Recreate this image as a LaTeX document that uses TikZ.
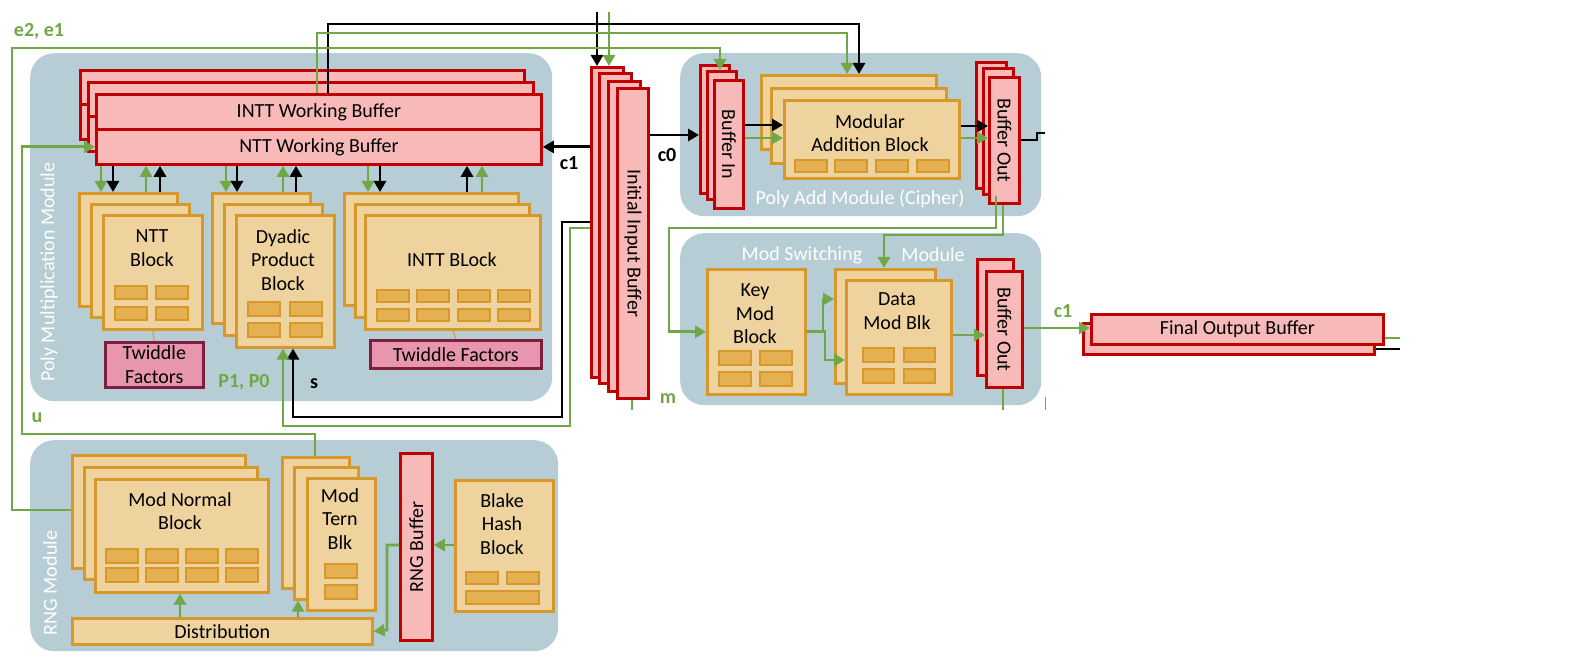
\documentclass[tikz,border=0pt]{standalone}
\usepackage{fontspec}
\setmainfont{Carlito}
\usetikzlibrary{arrows.meta,positioning}
\definecolor{modblue}{RGB}{182,205,214}
\definecolor{bufred}{RGB}{192,0,0}
\definecolor{buffill}{RGB}{248,185,185}
\definecolor{blkedge}{RGB}{214,152,42}
\definecolor{blkfill}{RGB}{238,211,158}
\definecolor{cellfill}{RGB}{228,176,82}
\definecolor{twedge}{RGB}{125,30,62}
\definecolor{twfill}{RGB}{232,150,176}
\definecolor{sigreen}{RGB}{112,168,72}

\begin{document}
\begin{tikzpicture}[x=1pt, y=-1pt,
  font=\fontsize{20}{23.5}\selectfont,
  module/.style={fill=modblue, rounded corners=24pt, anchor=north west, inner sep=0pt},
  modtext/.style={text=white, inner sep=0pt},
  buf/.style={draw=bufred, fill=buffill, line width=2.8pt, anchor=north west, inner sep=0pt},
  blk/.style={draw=blkedge, fill=blkfill, line width=2.6pt, anchor=north west, inner sep=0pt},
  cell/.style={draw=blkedge, fill=cellfill, line width=2.2pt, anchor=north west, minimum width=32pt, minimum height=13pt, inner sep=0pt},
  twid/.style={draw=twedge, fill=twfill, line width=2.6pt, anchor=north west, inner sep=0pt, align=center},
  txt/.style={align=center, inner sep=0pt},
  sig/.style={font=\fontsize{20}{23.5}\selectfont\bfseries, inner sep=0pt},
  bline/.style={line width=2.8pt},
  gline/.style={line width=2.8pt, draw=sigreen},
  barrow/.style={bline, -{Triangle[length=11pt,width=12pt]}},
  garrow/.style={gline, -{Triangle[length=11pt,width=12pt]}}
]
  \useasboundingbox (0,0) rectangle (1580,663);

  % modules
  \node[module, minimum width=522pt, minimum height=348pt] (pmm) at (30,53) {};
  \node[module, minimum width=361pt, minimum height=163pt] (pam) at (680,53) {};
  \node[module, minimum width=361pt, minimum height=172pt] (msm) at (680,233) {};
  \node[module, minimum width=528pt, minimum height=211pt] (rngm) at (30,440) {};
  \node[modtext, rotate=90] (pmmT) at (49,272) {Poly Multiplication Module};
  \node[modtext] (pamT) at (860,199) {Poly Add Module (Cipher)};
  \node[modtext] (msmT1) at (802,255) {Mod Switching};
  \node[modtext] (msmT2) at (933,255) {Module};
  \node[modtext, rotate=90] (rngmT) at (50,583) {RNG Module};

  % working buffers
  \node[buf, minimum width=444pt, minimum height=34.5pt] (wbI1) at (79,69) {};
  \node[buf, minimum width=444pt, minimum height=34.5pt] (wbN1) at (79,103.5) {};
  \node[buf, minimum width=445pt, minimum height=34.5pt] (wbI2) at (87,81) {};
  \node[buf, minimum width=445pt, minimum height=34.5pt] (wbN2) at (87,115.5) {};
  \node[buf, minimum width=445pt, minimum height=35pt] (wbI) at (95,93) {INTT Working Buffer};
  \node[buf, minimum width=445pt, minimum height=35pt] (wbN) at (95,128) {NTT Working Buffer};

  % NTT block
  \node[blk, minimum width=98pt, minimum height=113pt] (ntt1) at (78,192) {};
  \node[blk, minimum width=98pt, minimum height=113pt] (ntt2) at (90,203) {};
  \node[blk, minimum width=99pt, minimum height=114pt] (ntt3) at (102,214) {};
  \node[txt] (nttT) at (152,248) {NTT\\Block};
  \foreach \x in {114,155} \foreach \y in {285,306} \node[cell] (nttc\x\y) at (\x,\y) {};
  \node[twid, minimum width=98pt, minimum height=45pt] (tw1) at (104,341) {Twiddle\\Factors};

  % dyadic block
  \node[blk, minimum width=98pt, minimum height=130pt] (dy1) at (211,192) {};
  \node[blk, minimum width=98pt, minimum height=131pt] (dy2) at (223,203) {};
  \node[blk, minimum width=98pt, minimum height=132pt] (dy3) at (235,214) {};
  \node[txt] (dyT) at (283,260) {Dyadic\\Product\\Block};
  \foreach \x in {247,289} \foreach \y in {301,322} \node[cell, minimum height=14pt] (dyc\x\y) at (\x,\y) {};

  % INTT block
  \node[blk, minimum width=174pt, minimum height=112pt] (in1) at (343,192) {};
  \node[blk, minimum width=174pt, minimum height=113pt] (in2) at (354,203) {};
  \node[blk, minimum width=175pt, minimum height=114pt] (in3) at (364,214) {};
  \node[txt] (inT) at (452,260) {INTT BLock};
  \foreach \x in {376,416,457,497} \foreach \y in {289,308} \node[cell, minimum height=12pt] (inc\x\y) at (\x,\y) {};
  \node[twid, minimum width=171pt, minimum height=28pt] (tw2) at (369,339) {Twiddle Factors};

  % initial input buffer
  \foreach \i/\x/\y in {1/590/66, 2/598/72, 3/607/80}
    \node[buf, minimum width=32pt, minimum height=310pt] (ib\i) at (\x,\y) {};
  \node[buf, minimum width=31pt, minimum height=310pt] (ib4) at (616,87) {};
  \node[txt, rotate=-90] (ibT) at (ib4.center) {Initial Input Buffer};

  % poly add module
  \foreach \i/\x/\y in {1/699/64, 2/706/70, 3/713/79}
    \node[buf, minimum width=29pt, minimum height=128pt] (bin\i) at (\x,\y) {};
  \node[txt, rotate=-90] (binT) at (bin3.center) {Buffer In};
  \node[blk, minimum width=175pt, minimum height=74pt] (add1) at (760,74) {};
  \node[blk, minimum width=175pt, minimum height=75pt] (add2) at (770,87) {};
  \node[blk, minimum width=175pt, minimum height=78pt] (add3) at (783,99) {};
  \node[txt] (addT) at (870,133) {Modular\\Addition Block};
  \foreach \x in {794,834,875,916} \node[cell, minimum height=12pt] (addc\x) at (\x,159) {};
  \foreach \i/\x/\y in {1/975/61, 2/982/67, 3/988/76}
    \node[buf, minimum width=30pt, minimum height=126pt] (bo\i) at (\x,\y) {};
  \node[txt, rotate=-90] (boT) at (bo3.center) {Buffer Out};

  % mod switching module
  \node[blk, minimum width=98pt, minimum height=125pt] (key) at (706,268) {};
  \node[txt] (keyT) at (755,314) {Key\\Mod\\Block};
  \foreach \x in {718,759} \foreach \y in {350,371} \node[cell, minimum height=14pt] (keyc\x\y) at (\x,\y) {};
  \node[blk, minimum width=100pt, minimum height=114pt] (data1) at (834,268) {};
  \node[blk, minimum width=105pt, minimum height=114pt] (data2) at (845,279) {};
  \node[txt] (dataT) at (897,311) {Data\\Mod Blk};
  \foreach \x in {862,903} \foreach \y in {347,368} \node[cell, minimum width=31pt, minimum height=14pt] (datac\x\y) at (\x,\y) {};
  \node[buf, minimum width=36pt, minimum height=116pt] (bm1) at (976,258) {};
  \node[buf, minimum width=36pt, minimum height=116pt] (bm2) at (985,270) {};
  \node[txt, rotate=-90] (bmT) at (bm2.center) {Buffer Out};

  % final output buffer
  \node[buf, minimum width=291pt, minimum height=31pt] (fo1) at (1082,322) {};
  \node[buf, minimum width=292pt, minimum height=30pt] (fo2) at (1090,313) {Final Output Buffer};

  % RNG module
  \node[blk, minimum width=173pt, minimum height=113pt] (mn1) at (71,454) {};
  \node[blk, minimum width=173pt, minimum height=112pt] (mn2) at (83,466) {};
  \node[blk, minimum width=173pt, minimum height=113pt] (mn3) at (94,478) {};
  \node[txt] (mnT) at (180,511) {Mod Normal\\Block};
  \foreach \x in {105,145,185,225} \foreach \y in {548,567} \node[cell, minimum height=14pt] (mnc\x\y) at (\x,\y) {};
  \node[blk, minimum width=67pt, minimum height=131pt] (tn1) at (281,456) {};
  \node[blk, minimum width=64pt, minimum height=132pt] (tn2) at (293,466) {};
  \node[blk, minimum width=68pt, minimum height=132pt] (tn3) at (306,477) {};
  \node[txt] (tnT) at (340,519) {Mod\\Tern\\Blk};
  \foreach \y in {563,584} \node[cell, minimum height=14pt] (tnc\y) at (324,\y) {};
  \node[buf, minimum width=32pt, minimum height=187pt] (rngbuf) at (399,452) {};
  \node[txt, rotate=90] (rngbufT) at (rngbuf.center) {RNG Buffer};
  \node[blk, minimum width=98pt, minimum height=131pt] (blake) at (454,479) {};
  \node[txt] (blakeT) at (502,524) {Blake\\Hash\\Block};
  \foreach \x in {465,506} \node[cell, minimum height=12pt] (blakec\x) at (\x,571) {};
  \node[cell, minimum width=73pt] (blakew) at (465,590) {};
  \node[blk, minimum width=300pt, minimum height=26pt] (dist) at (71,617) {Distribution};

  % inputs at the top
  \coordinate (topB) at (597,12);
  \coordinate (topG) at (609,12);
  \draw[barrow] (topB) -- (topB |- ib1.north);
  \draw[garrow] (topG) -- (topG |- ib1.north);

  % INTT buffer and e2, e1 to the adder side
  \draw[barrow] (328,0 |- wbI.north) |- (859,24) -- (859,0 |- add1.north);
  \draw[garrow] (317,0 |- wbI.north) |- (847,33) -- (847,0 |- add1.north);
  \draw[garrow] (mn1.west |- 0,510) -| (12,48) -| (720,0 |- bin2.north);
  \draw[garrow] (315,0 |- tn1.north) |- (22,434) |- (wbN.west);

  % c1, c0, s, P1 P0
  \draw[barrow] (ib1.west |- wbN.east) -- (wbN.east);
  \draw[barrow] (ib4.east |- 0,135) -- (bin1.west |- 0,135);
  \draw[barrow] (ib1.west |- 0,222) -| (562,417) -| (293,0 |- dy3.south);
  \draw[garrow] (ib1.west |- 0,228) -| (570,426) -| (283,0 |- dy3.south);

  % working buffer <-> blocks
  \draw[garrow] (101,0 |- wbN.south) -- (101,0 |- ntt1.north);
  \draw[barrow] (113,0 |- wbN.south) -- (113,0 |- ntt1.north);
  \draw[garrow] (146,0 |- ntt1.north) -- (146,0 |- wbN.south);
  \draw[barrow] (160,0 |- ntt1.north) -- (160,0 |- wbN.south);
  \draw[garrow] (226,0 |- wbN.south) -- (226,0 |- dy1.north);
  \draw[barrow] (237,0 |- wbN.south) -- (237,0 |- dy1.north);
  \draw[garrow] (283,0 |- dy1.north) -- (283,0 |- wbN.south);
  \draw[barrow] (296,0 |- dy1.north) -- (296,0 |- wbN.south);
  \draw[garrow] (368,0 |- wbN.south) -- (368,0 |- in1.north);
  \draw[barrow] (380,0 |- wbN.south) -- (380,0 |- in1.north);
  \draw[barrow] (467,0 |- in1.north) -- (467,0 |- wbN.south);
  \draw[garrow] (482,0 |- in1.north) -- (482,0 |- wbN.south);
  \draw[blkedge, line width=1pt] (ntt3.south) -- (tw1.north);
  \draw[blkedge, line width=1pt] (453,0 |- in3.south) -- (tw2.north);

  % poly add
  \draw[barrow] (bin3.east |- 0,125) -- (add3.west |- 0,125);
  \draw[garrow] (bin3.east |- 0,138) -- (add3.west |- 0,138);
  \draw[barrow] (add3.east |- 0,126) -- (bo3.west |- 0,126);
  \draw[garrow] (add3.east |- 0,138) -- (bo3.west |- 0,138);
  \coordinate (stubA) at (1045,133);
  \draw[bline] (bo3.east |- 0,140) -- (1037,140) -- (1037,133) -- (stubA);

  % to mod switching
  \draw[garrow] (996,0 |- bo2.south) |- (669,228) |- (key.west);
  \draw[garrow] (1003,0 |- bo3.south) |- (884,235) -- (884,0 |- data1.north);
  \draw[garrow] (key.east) -- (823,0 |- key.east) |- (data1.west |- 0,299);
  \draw[garrow] (key.east) -- (825,0 |- key.east) |- (data2.west |- 0,360);
  \draw[garrow] (data2.east |- 0,335) -- (bm2.west |- 0,335);
  \draw[garrow] (bm2.east |- 0,328) -- (fo2.west |- 0,328);

  % loose ends
  \coordinate (foG) at (1400,338);
  \coordinate (foB) at (1400,349);
  \draw[gline] (fo2.east |- foG) -- (foG);
  \draw[bline] (fo1.east |- foB) -- (foB);
  \coordinate (mOut) at (632,410);
  \draw[gline] (mOut |- ib4.south) -- (mOut);
  \coordinate (msOut) at (1003,410);
  \draw[gline] (msOut |- bm2.south) -- (msOut);
  \coordinate (tickA) at (1045,397);
  \draw[sigreen, line width=0.6pt] (tickA) -- ++(0,13);

  % RNG
  \draw[garrow] (180,0 |- dist.north) -- (180,0 |- mn3.south);
  \draw[garrow] (298,0 |- dist.north) -- (298,0 |- tn2.south);
  \draw[garrow] (blake.west |- 0,545) -- (rngbuf.east |- 0,545);
  \draw[garrow] (rngbuf.west |- 0,545) -| (387,630) -- (dist.east);

  % signal names
  \node[sig, text=sigreen] (lblE) at (39,31) {e2, e1};
  \node[sig, text=sigreen] (lblU) at (37,418) {u};
  \node[sig, text=sigreen] (lblP) at (244,382) {P1, P0};
  \node[sig] (lblS) at (314,384) {s};
  \node[sig] (lblC1) at (569,163) {c1};
  \node[sig] (lblC0) at (667,155) {c0};
  \node[sig, text=sigreen] (lblM) at (668,399) {m};
  \node[sig, text=sigreen] (lblC1o) at (1063,311) {c1};
\end{tikzpicture}
\end{document}
